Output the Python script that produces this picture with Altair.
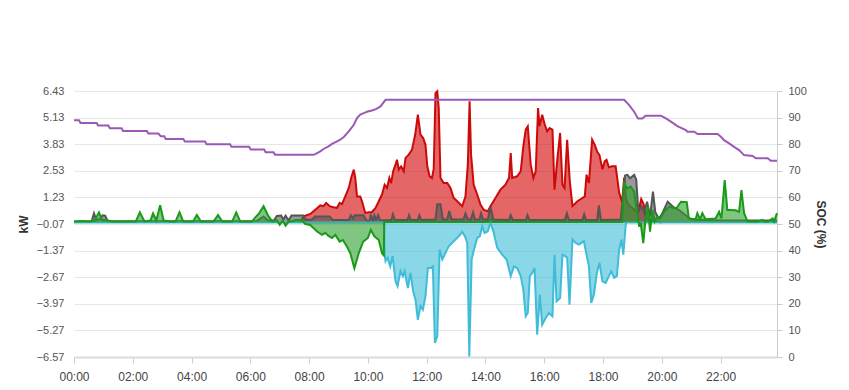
import altair as alt
import pandas as pd

# ---------------- data (hours of day, kW / %) ----------------
hour_ticks = [0, 2, 4, 6, 8, 10, 12, 14, 16, 18, 20, 22]
kw_ticks = [-6.57, -5.27, -3.97, -2.67, -1.37, -0.07, 1.23, 2.53, 3.83, 5.13, 6.43]
soc_ticks = [0, 10, 20, 30, 40, 50, 60, 70, 80, 90, 100]

red_t = [7.70, 7.81, 8.04, 8.21, 8.38, 8.49, 8.58, 8.70, 8.83, 8.95, 9.04, 9.12, 9.23, 9.35, 9.43,
         9.52, 9.57, 9.63, 9.74, 9.80, 9.91, 10.02, 10.14, 10.26, 10.37, 10.48, 10.57, 10.65, 10.73,
         10.79, 10.86, 10.94, 10.99, 11.05, 11.13, 11.22, 11.28, 11.39, 11.50, 11.61, 11.70, 11.79,
         11.88, 11.96, 12.02, 12.10, 12.18, 12.24, 12.30, 12.36, 12.41, 12.47, 12.58, 12.70, 12.81,
         12.92, 13.04, 13.21, 13.32, 13.40, 13.46, 13.51, 13.60, 13.72, 13.83, 13.94, 14.08, 14.17,
         14.34, 14.51, 14.68, 14.80, 14.86, 14.91, 15.08, 15.20, 15.29, 15.37, 15.44, 15.54, 15.63,
         15.71, 15.79, 15.84, 15.93, 16.02, 16.10, 16.18, 16.28, 16.35, 16.44, 16.54, 16.62, 16.69,
         16.78, 16.87, 16.96, 17.13, 17.30, 17.38, 17.44, 17.52, 17.63, 17.72, 17.80, 17.88, 17.98,
         18.06, 18.12, 18.20, 18.30, 18.43, 18.55, 18.65, 18.72, 18.78, 18.85, 19.00, 19.20, 19.30,
         19.38, 19.45, 19.60, 19.80, 20.00]
red_kw = [0.00, 0.30, 0.42, 0.63, 0.84, 0.80, 0.96, 0.80, 0.75, 0.72, 0.96, 0.90, 1.28, 1.69, 2.18,
          2.59, 2.18, 1.28, 1.28, 1.04, 0.47, 0.50, 0.52, 0.72, 1.04, 1.37, 1.85, 1.69, 2.18,
          1.93, 2.51, 2.83, 3.07, 2.59, 2.75, 2.51, 3.16, 3.32, 3.56, 4.30, 5.27, 4.30,
          4.13, 3.80, 2.75, 2.26, 2.18, 2.62, 6.33, 6.42, 5.60, 2.18, 1.93, 1.93, 1.69,
          1.20, 1.04, 0.80, 1.28, 2.83, 5.93, 3.32, 1.85, 1.37, 0.88, 0.63, 0.55, 0.80,
          1.20, 1.61, 1.85, 2.18, 3.40, 2.18, 2.26, 2.51, 3.73, 4.54, 4.70, 2.83, 2.18,
          2.51, 5.60, 4.70, 5.27, 4.78, 4.46, 4.62, 4.54, 1.61, 3.00, 4.38, 1.85, 1.69,
          4.05, 2.02, 0.80, 1.04, 1.20, 1.28, 2.34, 1.93, 4.05, 3.80, 3.47, 3.30, 2.60,
          3.00, 3.06, 2.70, 2.75, 2.75, 1.45, 1.00, 2.20, 1.20, 0.90, 0.70, 0.50, 1.15,
          0.90, 0.30, 0.15, 0.05, 0.00]

grey_t = [0.00, 0.60, 0.68, 0.76, 0.90, 0.97, 1.06, 1.15, 6.20, 6.45, 6.60, 6.80, 6.90, 7.05, 7.12,
          7.20, 7.30, 7.40, 7.80, 7.90, 8.10, 8.20, 8.70, 8.80, 9.35, 9.42, 9.50, 9.55, 9.85, 9.95,
          10.05, 10.10, 10.17, 10.22, 10.28, 10.35, 10.42, 10.80, 10.85, 10.92, 11.35, 11.40, 11.46,
          11.70, 11.75, 11.82, 12.30, 12.36, 12.47, 12.55, 12.70, 12.77, 12.85, 13.25, 13.32, 13.40,
          13.50, 13.58, 13.64, 13.80, 13.85, 13.92, 14.08, 14.17, 14.27, 14.80, 14.86, 14.93, 15.38,
          15.43, 15.50, 16.70, 16.77, 16.84, 17.30, 17.36, 17.42, 17.80, 17.86, 17.93, 18.60, 18.75,
          18.83, 18.92, 19.06, 19.13, 19.20, 19.30, 19.40, 19.50, 19.60, 19.70, 19.78, 19.90, 20.00,
          20.20, 20.40, 20.60, 21.00, 22.00, 23.92]
grey_kw = [0.05, 0.06, 0.45, 0.12, 0.20, 0.35, 0.34, 0.06, 0.06, 0.30, 0.10, 0.10, 0.32, 0.34, 0.15,
           0.34, 0.10, 0.34, 0.34, 0.12, 0.15, 0.30, 0.30, 0.12, 0.12, 0.36, 0.20, 0.36, 0.36, 0.10,
           0.06, 0.36, 0.10, 0.36, 0.12, 0.36, 0.10, 0.12, 0.40, 0.12, 0.12, 0.36, 0.12,
           0.12, 0.36, 0.12, 0.15, 0.90, 0.90, 0.15, 0.15, 0.57, 0.15, 0.15, 0.45, 0.15,
           0.15, 0.50, 0.15, 0.15, 0.45, 0.15, 0.15, 0.78, 0.15, 0.12, 0.36, 0.12, 0.12,
           0.36, 0.12, 0.12, 0.45, 0.12, 0.12, 0.40, 0.12, 0.12, 0.84, 0.12, 0.15, 2.30,
           2.33, 2.16, 2.33, 2.10, 0.60, 0.80, 0.50, 1.02, 0.30, 1.51, 0.50, 0.20, 0.40,
           1.02, 0.75, 0.60, 0.15, 0.10, 0.10]

green_t = [0.00, 0.30, 0.50, 0.70, 0.85, 0.95, 1.10, 1.30, 2.10, 2.24, 2.40, 2.60, 2.69, 2.80, 2.93,
           3.05, 3.30, 3.45, 3.59, 3.72, 4.05, 4.18, 4.32, 4.75, 4.90, 5.05, 5.38, 5.52, 5.66, 6.05,
           6.20, 6.30, 6.45, 6.60, 6.75, 6.90, 7.00, 7.10, 7.20, 7.30, 7.45, 7.55, 7.75, 7.87, 8.04,
           8.27, 8.44, 8.55, 8.66, 8.78, 8.89, 9.04, 9.15, 9.29, 9.40, 9.54, 9.69, 9.84, 10.00, 10.10,
           10.22, 10.37, 10.48, 10.54, 10.56, 14.10, 14.17, 14.24, 18.65, 18.72, 18.83, 18.94, 19.06,
           19.15, 19.23, 19.28, 19.37, 19.45, 19.53, 19.60, 19.68, 19.76, 19.85, 19.94, 20.08, 20.25,
           20.42, 20.50, 20.65, 20.85, 20.92, 21.15, 21.21, 21.30, 21.38, 21.49, 21.83, 21.95, 22.03,
           22.14, 22.23, 22.34, 22.51, 22.63, 22.71, 22.80, 22.92, 23.26, 23.43, 23.48, 23.60, 23.77,
           23.82, 23.92]
green_kw = [0.05, 0.08, 0.05, 0.10, 0.50, 0.12, 0.12, 0.05, 0.05, 0.50, 0.06, 0.10, 0.45, 0.10, 0.85,
            0.10, 0.05, 0.05, 0.50, 0.05, 0.05, 0.37, 0.05, 0.05, 0.37, 0.05, 0.05, 0.50, 0.05, 0.05,
            0.30, 0.45, 0.80, 0.35, 0.05, 0.12, -0.10, 0.10, -0.15, 0.05, 0.08, 0.13, 0.13, -0.07, -0.12,
            -0.44, -0.60, -0.50, -0.65, -0.75, -0.60, -0.93, -0.85, -1.18, -1.49, -2.23, -1.49, -0.93, -0.75, -0.36,
            -0.67, -0.85, -1.50, -1.60, 0.03, 0.03, 0.15, 0.03, 0.03, 1.92, 1.68, 1.76, 1.51,
            0.62, -0.20, 0.00, -1.01, 0.20, 0.78, -0.44, 0.62, 0.05, 0.29, 0.20, 0.53, 0.78,
            0.70, 0.70, 1.02, 1.00, 0.20, 0.16, 0.46, 0.16, 0.46, 0.16, 0.20, 0.53, 0.20,
            2.08, 0.62, 0.62, 0.60, 0.53, 1.59, 0.46, 0.05, 0.05, 0.13, 0.05, 0.05, 0.20,
            0.05, 0.46]

cyan_t = [0.00, 10.54, 10.57, 10.60, 10.67, 10.76, 10.84, 10.94, 11.01, 11.11, 11.19, 11.25, 11.36,
          11.45, 11.54, 11.62, 11.70, 11.79, 11.87, 11.96, 12.04, 12.13, 12.21, 12.28, 12.36, 12.44,
          12.53, 12.64, 12.75, 12.87, 12.98, 13.09, 13.21, 13.30, 13.38, 13.45, 13.53, 13.61, 13.72,
          13.81, 13.89, 13.97, 14.08, 14.17, 14.27, 14.40, 14.57, 14.72, 14.86, 14.97, 15.08, 15.20,
          15.29, 15.37, 15.44, 15.51, 15.59, 15.67, 15.76, 15.85, 15.93, 16.05, 16.16, 16.28, 16.35,
          16.42, 16.54, 16.62, 16.71, 16.78, 16.86, 16.96, 17.07, 17.18, 17.35, 17.44, 17.52, 17.60,
          17.69, 17.79, 17.88, 17.98, 18.09, 18.20, 18.28, 18.38, 18.47, 18.55, 18.63, 18.69, 18.78,
          23.92]
cyan_kw = [0.00, 0.00, -1.55, -1.89, -1.72, -2.14, -1.64, -2.87, -3.11, -2.38, -2.62, -2.38, -3.20,
           -2.46, -3.36, -3.77, -4.75, -4.09, -4.26, -3.60, -2.22, -2.22, -2.14, -5.88, -5.56, -1.32,
           -1.80, -1.48, -1.16, -0.99, -0.83, -0.67, -0.46, -0.67, -1.00, -6.54, -1.81, -1.32, -0.75,
           -0.67, -0.18, -0.51, -0.43, 0.00, -0.43, -1.24, -1.57, -1.81, -2.62, -2.14, -2.22, -2.62,
           -3.28, -4.58, -4.42, -2.62, -2.46, -2.22, -5.48, -3.52, -4.99, -4.66, -4.42, -4.58, -1.57,
           -3.85, -3.69, -1.57, -1.64, -1.72, -4.01, -0.83, -1.00, -1.08, -0.91, -1.57, -2.14, -3.93,
           -3.52, -2.46, -1.97, -2.87, -2.95, -2.62, -2.38, -2.70, -2.62, -1.32, -0.83, -1.57, 0.00,
           0.00]

soc_t = [0.00, 0.17, 0.22, 0.77, 0.82, 1.17, 1.22, 1.62, 1.67, 2.48, 2.53, 2.87, 2.95, 3.07, 3.12,
         3.72, 3.77, 4.46, 4.51, 5.31, 5.36, 5.96, 6.01, 6.47, 6.52, 6.79, 6.84, 8.15, 8.21, 8.38,
         8.49, 8.66, 8.78, 8.95, 9.06, 9.18, 9.35, 9.52, 9.63, 9.74, 9.86, 9.99, 10.14, 10.29, 10.43,
         10.60, 18.72, 18.89, 19.06, 19.19, 19.34, 19.45, 19.97, 20.14, 20.31, 20.53, 20.82, 20.87,
         21.10, 21.22, 21.90, 22.01, 22.12, 22.29, 22.46, 22.63, 22.80, 23.09, 23.20, 23.60, 23.71,
         23.92]
soc_pct = [89, 89, 88, 88, 87, 87, 86, 86, 85, 85, 84, 84, 83, 83, 82,
           82, 81, 81, 80, 80, 79, 79, 78, 78, 77, 77, 76, 76, 76.3, 77.3,
           78.2, 79.2, 80.1, 81.1, 81.7, 82.7, 84.8, 87.3, 89.8, 91.1, 91.7, 92.3, 92.7, 93.3, 94.2,
           96.7, 96.7, 94.7, 92.2, 89.7, 89.7, 90.7, 90.7, 89.7, 88.5, 86.8, 85.3, 84.7,
           84.7, 83.8, 83.8, 82.8, 81.5, 80.3, 79.0, 77.8, 75.9, 75.6, 74.7, 74.7, 73.8,
           73.8]

# ---------------- chart ----------------
FONT = "Liberation Sans"

def frame(t, v):
    return pd.DataFrame({"t": t, "v": v})

x_enc = alt.X(
    "t:Q",
    scale=alt.Scale(domain=[0, 23.92], nice=False, zero=False),
    axis=alt.Axis(values=hour_ticks, title=None, grid=False, labelFlush=False,
                  labelExpr="(datum.value < 10 ? '0' : '') + datum.value + ':00'",
                  domainColor="#dcdcdc", domainWidth=2, tickColor="#cccccc",
                  tickSize=6, labelPadding=8, labelFontSize=12, labelColor="#444444",
                  labelFont=FONT),
)
y_kw = alt.Y(
    "v:Q",
    scale=alt.Scale(domain=[-6.57, 6.43], nice=False, zero=False),
    axis=alt.Axis(values=kw_ticks, format=".2f", title="kW", grid=True, labelFlush=False,
                  gridColor="#e6e6e6", domain=False, ticks=False, labelPadding=10,
                  labelFontSize=11, labelColor="#555555", labelFont=FONT,
                  titleFont=FONT, titleFontSize=12, titleFontWeight="bold",
                  titleColor="#333333", titlePadding=6),
)

def series(t, v, fill, stroke):
    base = alt.Chart(frame(t, v))
    area = base.mark_area(color=fill, fillOpacity=0.6, interpolate="linear").encode(
        x=x_enc, y=y_kw, y2=alt.datum(0))
    line = base.mark_line(color=stroke, strokeWidth=2, interpolate="linear").encode(
        x=x_enc, y=y_kw)
    return [area, line]

kw_layers = (
    series(red_t, red_kw, "#d40000", "#cc0a0a")
    + series(grey_t, grey_kw, "#555555", "#555555")
    + series(cyan_t, cyan_kw, "#3cbcd8", "#40bcd8")
    + series(green_t, green_kw, "#2ca02c", "#1a9a1a")
)
kw = alt.layer(*kw_layers)

soc = alt.Chart(pd.DataFrame({"t": soc_t, "soc": soc_pct})).mark_line(
    color="#9b59b6", strokeWidth=2).encode(
    x=x_enc,
    y=alt.Y("soc:Q", scale=alt.Scale(domain=[0, 100], nice=False, zero=False),
            axis=alt.Axis(orient="right", values=soc_ticks, title="SOC (%)", grid=False,
                          labelFlush=False,
                          domainColor="#cccccc", tickColor="#cccccc", tickSize=5,
                          labelPadding=6, labelFontSize=11, labelColor="#555555",
                          labelFont=FONT, titleFont=FONT, titleFontSize=12,
                          titleFontWeight="bold", titleColor="#333333", titlePadding=7)),
)

chart = (
    alt.layer(kw, soc)
    .resolve_scale(y="independent")
    .properties(width=703, height=266,
                padding={"left": 74, "top": 91, "right": 72, "bottom": 33},
                autosize=alt.AutoSizeParams(type="none"), background="white")
    .configure_view(stroke=None)
)

chart.save("out.html", embed_options={"renderer": "svg", "actions": False})
